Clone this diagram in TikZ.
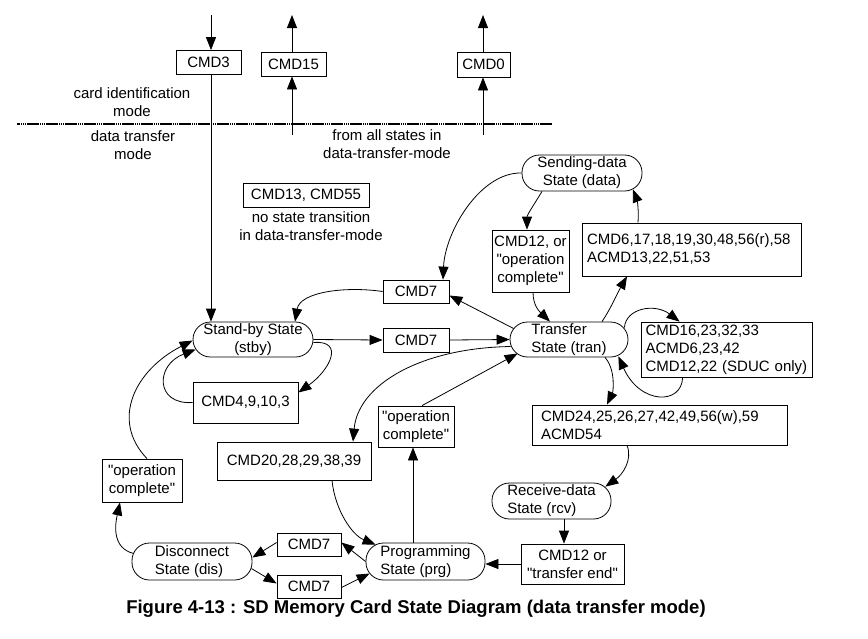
\documentclass[tikz,border=0pt]{standalone}
\usepackage{fontspec}
\setmainfont[Ligatures=TeXOff]{Liberation Sans}
\usetikzlibrary{arrows.meta,calc}
\begin{document}
\begin{tikzpicture}[x=1pt,y=-1pt]
\tikzset{
  every node/.style={font=\fontsize{15}{18}\selectfont, inner sep=0pt},
  box/.style={draw, line width=0.8pt, rectangle, align=center},
  st/.style={draw, line width=0.8pt, rounded corners=17.5pt, align=center},
  arr/.style={-{Triangle[length=13pt,width=10pt]}, line width=0.8pt},
  sep/.style={line width=1.6pt, dash pattern=on 1.5pt off 0.4pt},
}
\useasboundingbox (0,0) rectangle (868,638);
% top boxes
\node[box, minimum width=65pt, minimum height=24pt] (cmd3) at (208.5,62.5) {CMD3};
\node[box, minimum width=65pt, minimum height=24pt] (cmd15) at (293.5,64) {CMD15};
\node[box, minimum width=53pt, minimum height=25pt] (cmd0) at (483.5,64.5) {CMD0};
\node[align=center] (cardid) at (132,102) {card identification\\mode};
\node[align=center] (datatr) at (133,145) {data transfer\\mode};
\node[align=center] (fromall) at (387,144) {from all states in\\data-transfer-mode};
\coordinate (sepL) at (17,124);
\coordinate (sepR) at (552,124);
\draw[sep] (sepL) -- (sepR);
\coordinate (c3) at (211,15);
\coordinate (c15t) at (292,15);
\coordinate (c15b) at (292,135);
\coordinate (c0t) at (483,15);
\coordinate (c0b) at (483,135);
% middle
\node[box, minimum width=126pt, minimum height=24pt] (cmd1355) at (306,195) {CMD13, CMD55};
\node[align=center] (notrans) at (311,226) {no state transition\\in data-transfer-mode};
\node[st, minimum width=120pt, minimum height=36pt] (data) at (582,173) {Sending-data\\State (data)};
\node[box, minimum width=77pt, minimum height=62pt] (cmd12or) at (530.5,261) {CMD12, or\\"operation\\complete"};
\node[box, text width=209pt, inner xsep=5pt, minimum height=53pt, align=left] (cmd6) at (691.5,249.5) {CMD6,17,18,19,30,48,56(r),58\\ACMD13,22,51,53};
\node[box, minimum width=66pt, minimum height=23pt] (cmd7a) at (416,291.5) {CMD7};
\node[box, minimum width=66pt, minimum height=24pt] (cmd7b) at (416,340) {CMD7};
\node[st, minimum width=120pt, minimum height=35pt] (stby) at (253,339.5) {Stand-by State\\(stby)};
\node[st, minimum width=118pt, minimum height=35pt, align=left] (tran) at (569,339.5) {Transfer\\State (tran)};
\node[box, text width=162pt, inner xsep=4.5pt, minimum height=55pt, align=left] (cmd16) at (726.5,349.5) {CMD16,23,32,33\\ACMD6,23,42\\CMD12,22 (SDUC only)};
\node[box, minimum width=105pt, minimum height=41pt] (cmd4) at (245.5,402.5) {CMD4,9,10,3};
\node[box, text width=237pt, inner xsep=9pt, minimum height=40pt, align=left] (cmd24) at (659.5,425) {CMD24,25,26,27,42,49,56(w),59\\ACMD54};
\node[box, minimum width=76pt, minimum height=41pt] (opcmid) at (416,426.5) {"operation\\complete"};
\node[box, minimum width=154pt, minimum height=38pt] (cmd20) at (294,461) {CMD20,28,29,38,39};
\node[box, minimum width=80pt, minimum height=43pt] (opcleft) at (142,480.5) {"operation\\complete"};
\node[st, minimum width=119pt, minimum height=36pt, align=left] (rcv) at (551.5,501) {Receive-data\\State (rcv)};
% bottom
\node[box, minimum width=64pt, minimum height=23pt] (cmd7c) at (309,544.5) {CMD7};
\node[box, minimum width=64pt, minimum height=23pt] (cmd7d) at (309,586.5) {CMD7};
\node[st, minimum width=120pt, minimum height=37pt, align=left] (dis) at (192,561.5) {Disconnect\\State (dis)};
\node[st, minimum width=119pt, minimum height=37pt, align=left] (prg) at (425.5,561.5) {Programming\\State (prg)};
\node[box, minimum width=103pt, minimum height=40pt] (cmd12end) at (572.5,564) {CMD12 or\\"transfer end"};
\node[font=\fontsize{18.5}{22}\selectfont\bfseries] (caption) at (416,609) {Figure 4-13 : SD Memory Card State Diagram (data transfer mode)};
% connectors top
\draw[arr] (c3) -- (c3 |- cmd3.north);
\draw[arr] (c3 |- cmd3.south) -- (c3 |- stby.north);
\draw[arr] (c15b) -- (c15b |- cmd15.south);
\draw[arr] (c15b |- cmd15.north) -- (c15t);
\draw[arr] (c0b) -- (c0b |- cmd0.south);
\draw[arr] (c0b |- cmd0.north) -- (c0t);
% stand-by related
\draw[arr] (data.west) .. controls (480,172) and (445,232) .. ($(cmd7a.north)+(27,0)$);
\draw[arr] ($(tran.west)+(4,-11)$) -- ($(cmd7a.east)+(0,4)$);
\draw[arr] (cmd7a.west) .. controls (345,286) and (300,292) .. ($(stby.north)+(42,0)$);
\draw[arr] (stby.east) -- (cmd7b.west);
\draw[arr] (cmd7b.east) -- (tran.west);
\draw[arr] ($(stby.east)+(0,3)$) .. controls (345,340) and (330,370) .. ($(cmd4.east)+(0,-10)$);
\draw[arr] (cmd4.west) .. controls (155,405) and (155,365) .. ($(stby.west)+(3,10)$);
\draw[arr] ($(opcleft.north)+(5,0)$) .. controls (110,420) and (135,370) .. ($(stby.west)+(0,1)$);
\draw[arr] ($(dis.west)+(2,-8)$) .. controls (112,548) and (115,525) .. ($(opcleft.south)+(-22,0)$);
% disconnect / programming
\draw[arr] ($(cmd7c.west)+(0,-2)$) -- ($(dis.east)+(0,-4)$);
\draw[arr] (prg.west) -- ($(cmd7c.east)+(0,-2)$);
\draw[arr] ($(dis.east)+(-1,7)$) -- ($(cmd7d.west)+(0,-3)$);
\draw[arr] ($(cmd7d.east)+(0,1)$) -- ($(prg.west)+(4,12)$);
\draw[arr] ($(prg.north)+(-12.5,0)$) -- ($(opcmid.south)+(-3,0)$);
\draw[arr] ($(opcmid.north)+(6,0)$) -- ($(tran.west)+(8,14)$);
\draw[arr] ($(tran.west)+(1,7)$) .. controls (420,348) and (358,385) .. ($(cmd20.north)+(59,0)$);
\draw[arr] ($(cmd20.south)+(38,0)$) .. controls (335,510) and (352,535) .. ($(prg.north west)+(10,2)$);
% transfer related
\draw[arr] ($(data.south)+(-40,0)$) .. controls (535,203) and (527,215) .. ($(cmd12or.north)+(-3.5,0)$);
\draw[arr] ($(cmd12or.south)+(2.5,0)$) .. controls (533,306) and (540,312) .. ($(tran.north)+(-19,0)$);
\draw[arr] ($(tran.north)+(33,0)$) .. controls (610,310) and (618,292) .. ($(cmd6.south)+(-64.5,0)$);
\draw[arr] ($(cmd6.north)+(-53.5,0)$) .. controls (639,210) and (637,200) .. ($(data.south)+(51,-2)$);
\draw[arr] ($(tran.east)+(-4,-12)$) .. controls (626,308) and (655,303) .. ($(cmd16.north west)+(39,0)$);
\draw[arr] ($(cmd16.south west)+(42,0)$) .. controls (682,405) and (640,405) .. ($(tran.south east)+(-10,-1)$);
\draw[arr] ($(tran.south)+(36,0)$) .. controls (616,370) and (613,392) .. ($(cmd24.north)+(-52.5,0)$);
\draw[arr] ($(cmd24.south)+(-32.5,0)$) .. controls (633,460) and (622,475) .. ($(rcv.north east)+(-6,4)$);
\draw[arr] ($(rcv.south)+(12.5,0)$) -- ($(cmd12end.north)+(-8.5,0)$);
\draw[arr] (cmd12end.west) -- (cmd12end.west -| prg.east);
\end{tikzpicture}
\end{document}
